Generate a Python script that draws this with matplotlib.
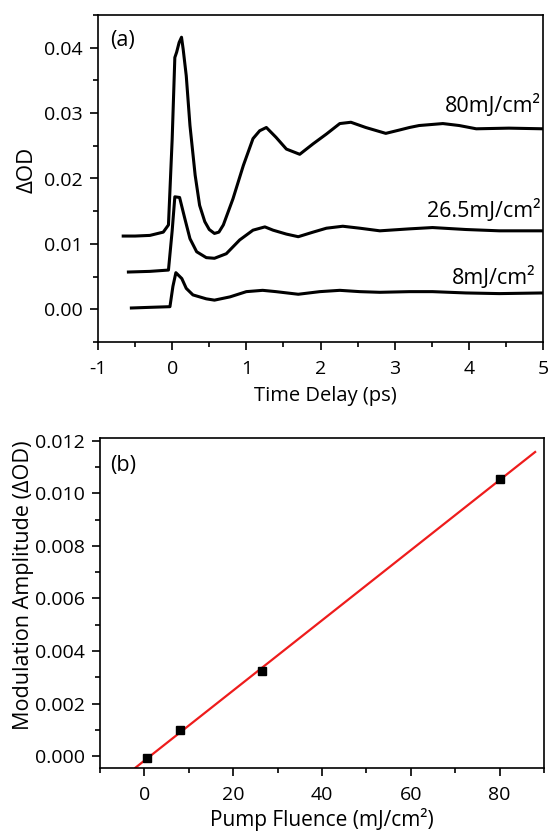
import matplotlib
matplotlib.use("Agg")
import matplotlib.pyplot as plt
from matplotlib.ticker import MultipleLocator, FormatStrFormatter
import numpy as np

plt.rcParams['font.family'] = ['Open Sans', 'DejaVu Sans']

# ---------------------------------------------------------------- data (a)
# transient absorption traces
t_80 = [-0.66, -0.5, -0.3, -0.12, -0.05, 0.0, 0.036, 0.06, 0.094, 0.126, 0.148,
        0.19, 0.24, 0.31, 0.37, 0.44, 0.50, 0.57, 0.63, 0.69, 0.82, 0.96, 1.09,
        1.18, 1.27, 1.40, 1.54, 1.72, 1.90, 2.08, 2.26, 2.41, 2.61, 2.88, 3.06,
        3.20, 3.33, 3.65, 3.87, 4.10, 4.54, 5.0]
od_80 = [0.0112, 0.0112, 0.0113, 0.0118, 0.0129, 0.0260, 0.0385, 0.0393, 0.0408,
         0.0416, 0.0398, 0.0357, 0.0281, 0.0205, 0.0159, 0.0134, 0.0122, 0.0116,
         0.0118, 0.0129, 0.0169, 0.0220, 0.0261, 0.0273, 0.0278, 0.0263, 0.0245,
         0.0237, 0.0253, 0.0268, 0.0284, 0.0286, 0.0278, 0.0269, 0.0274, 0.0278,
         0.0281, 0.0284, 0.0281, 0.0276, 0.0277, 0.0276]

t_26 = [-0.59, -0.3, -0.05, 0.0, 0.036, 0.10, 0.17, 0.24, 0.33, 0.46, 0.57, 0.73,
        0.91, 1.09, 1.25, 1.36, 1.54, 1.70, 1.90, 2.08, 2.30, 2.53, 2.80, 3.20,
        3.51, 3.96, 4.41, 5.0]
od_26 = [0.0057, 0.0058, 0.0060, 0.0120, 0.0172, 0.0171, 0.0139, 0.0108, 0.0088,
         0.0079, 0.0078, 0.0085, 0.0106, 0.0121, 0.0126, 0.0121, 0.0115, 0.0111,
         0.0118, 0.0124, 0.0127, 0.0124, 0.0120, 0.0123, 0.0125, 0.0122, 0.0120,
         0.0120]

t_8 = [-0.55, -0.3, -0.03, 0.01, 0.05, 0.13, 0.19, 0.28, 0.46, 0.57, 0.78, 1.0,
       1.22, 1.40, 1.70, 1.99, 2.26, 2.53, 2.80, 3.20, 3.51, 3.96, 4.41, 5.0]
od_8 = [0.0002, 0.0003, 0.0004, 0.0035, 0.0056, 0.0047, 0.0032, 0.0022, 0.0016,
        0.0014, 0.0019, 0.0027, 0.0029, 0.0027, 0.0023, 0.0027, 0.0029, 0.0027,
        0.0026, 0.0027, 0.0027, 0.0025, 0.0024, 0.0025]

trace_labels = ["80mJ/cm²", "26.5mJ/cm²", "8mJ/cm²"]
label_pos = [(4.97, 0.0301), (4.97, 0.0141), (4.90, 0.0039)]

# ---------------------------------------------------------------- data (b)
fluence = [0.5, 8, 26.5, 80]
amplitude = [-0.00008, 0.00098, 0.00322, 0.01054]
fit_range = [-2, 88]

# ---------------------------------------------------------------- figure
fig = plt.figure(figsize=(5.48, 8.34), dpi=100)
ax1 = fig.add_axes([98 / 548, 1 - 342 / 834, 445 / 548, 327 / 834])
ax2 = fig.add_axes([100 / 548, 1 - 768 / 834, 444 / 548, 330 / 834])


def style(ax):
    for s in ax.spines.values():
        s.set_linewidth(1.2)
    ax.tick_params(which='both', direction='out', top=False, right=False,
                   width=1.2, labelsize=14)
    ax.tick_params(which='major', length=6)
    ax.tick_params(which='minor', length=3.5)
    ax.tick_params(axis='x', which='major', pad=7)
    ax.tick_params(axis='y', which='major', pad=5)


# (a) traces
for t, od in [(t_80, od_80), (t_26, od_26), (t_8, od_8)]:
    ax1.plot(t, od, color='black', lw=2.2)
for txt, (x, y) in zip(trace_labels, label_pos):
    ax1.text(x, y, txt, ha='right', va='baseline', fontsize=15.5)

ax1.set_xlim(-1, 5)
ax1.set_ylim(-0.005, 0.045)
ax1.xaxis.set_major_locator(MultipleLocator(1))
ax1.xaxis.set_minor_locator(MultipleLocator(0.5))
ax1.yaxis.set_major_locator(MultipleLocator(0.01))
ax1.yaxis.set_minor_locator(MultipleLocator(0.005))
ax1.yaxis.set_major_formatter(FormatStrFormatter('%.2f'))
ax1.xaxis.set_major_formatter(FormatStrFormatter('%d'))
style(ax1)
ax1.set_xlabel("Time Delay (ps)", fontsize=14.5)
ax1.set_ylabel("ΔOD", fontsize=16)
ax1.xaxis.set_label_coords(0.51, -0.135)
ax1.yaxis.set_label_coords(-0.135, 0.526)
ax1.text(0.027, 0.923, "(a)", transform=ax1.transAxes, fontsize=15.5, va='center')

# (b) modulation amplitude with linear fit
slope, icpt = np.polyfit(fluence, amplitude, 1)
xf = np.array(fit_range)
ax2.plot(xf, slope * xf + icpt, color='#ee1c1c', lw=1.6, zorder=2)
ax2.plot(fluence, amplitude, 's', color='black', ms=6, zorder=3)

ax2.set_xlim(-10, 90)
ax2.set_ylim(-0.00045, 0.0121)
ax2.xaxis.set_major_locator(MultipleLocator(20))
ax2.xaxis.set_minor_locator(MultipleLocator(10))
ax2.yaxis.set_major_locator(MultipleLocator(0.002))
ax2.yaxis.set_minor_locator(MultipleLocator(0.001))
ax2.yaxis.set_major_formatter(FormatStrFormatter('%.3f'))
style(ax2)
ax2.set_xlabel("Pump Fluence (mJ/cm²)", fontsize=15)
ax2.set_ylabel("Modulation Amplitude (ΔOD)", fontsize=15.6)
ax2.xaxis.set_label_coords(0.499, -0.121)
ax2.yaxis.set_label_coords(-0.149, 0.555)
ax2.text(0.0225, 0.918, "(b)", transform=ax2.transAxes, fontsize=15.5, va='center')

fig.savefig("out.png", dpi=100)
